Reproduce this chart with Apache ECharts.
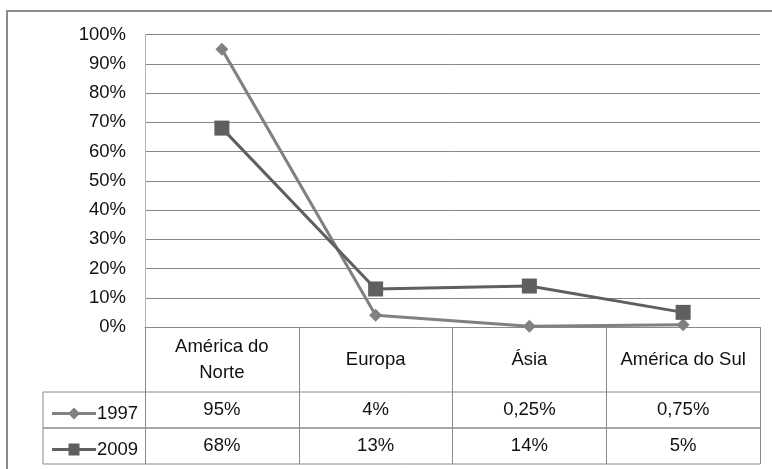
<!DOCTYPE html>
<html>
<head>
<meta charset="utf-8">
<script src="https://cdn.jsdelivr.net/npm/echarts@6/dist/echarts.min.js"></script>
<style>
html,body{margin:0;padding:0;background:#fff;}
#c{width:772px;height:469px;}
</style>
</head>
<body>
<div id="c"></div>
<script>
const categories = ['América do\nNorte', 'Europa', 'Ásia', 'América do Sul'];
const seriesNames = ['1997', '2009'];
const values1997 = [95, 4, 0.25, 0.75];
const values2009 = [68, 13, 14, 5];
const yTicks = [0, 10, 20, 30, 40, 50, 60, 70, 80, 90, 100];

const FONT = 'Liberation Sans';
const FS = 18.5;
const fmtPct = v => String(v).replace('.', ',') + '%';

const chart = echarts.init(document.getElementById('c'), null, {renderer: 'canvas'});

const G = {left: 145, right: 12, top: 34.5, bottom: 142};
const plotBottom = 469 - G.bottom;   // 327
const row1 = 392, row2 = 428, row3 = 464, tableLeft = 43;
const plotRight = 772 - G.right;

const valueAxis = (idx, arr, center) => ({
  type: 'category', gridIndex: 0, position: 'bottom', data: categories,
  axisLine: {show: false}, axisTick: {show: false}, splitLine: {show: false},
  axisLabel: {
    interval: 0, margin: center - plotBottom, verticalAlign: 'middle',
    fontFamily: FONT, fontSize: FS, color: '#111',
    formatter: (v, i) => fmtPct(arr[i])
  }
});

const DIAMOND_ICON = 'path://M0,4.5 L17.5,4.5 L22,0 L26.5,4.5 L44,4.5 L44,7.5 L26.5,7.5 L22,12 L17.5,7.5 L0,7.5 Z';
const SQUARE_ICON = 'path://M0,4.5 L16.5,4.5 L16.5,0 L27.5,0 L27.5,4.5 L44,4.5 L44,7.5 L27.5,7.5 L27.5,12 L16.5,12 L16.5,7.5 L0,7.5 Z';

const legendBase = {
  left: 47, itemWidth: 44, itemHeight: 12, itemGap: 2, selectedMode: false,
  textStyle: {fontFamily: FONT, fontSize: FS, color: '#111', padding: [0, 0, 0, -4]}
};

chart.setOption({
  animation: false,
  backgroundColor: '#fff',
  grid: {left: G.left, right: G.right, top: G.top, bottom: G.bottom},
  legend: [
    Object.assign({}, legendBase, {data: [{name: seriesNames[0], icon: DIAMOND_ICON}], top: row1 + 7}),
    Object.assign({}, legendBase, {data: [{name: seriesNames[1], icon: SQUARE_ICON}], top: row2 + 7})
  ],
  xAxis: [
    {
      type: 'category', data: categories, boundaryGap: true,
      axisLine: {show: true, lineStyle: {color: '#8a8a8a', width: 1}},
      axisTick: {show: true, interval: 0, length: row3 - plotBottom, lineStyle: {color: '#8a8a8a', width: 1}},
      axisLabel: {interval: 0, margin: (row1 - plotBottom) / 2, verticalAlign: 'middle',
        fontFamily: FONT, fontSize: FS, color: '#111', lineHeight: 26, align: 'center'},
      splitLine: {show: false}
    },
    valueAxis(1, values1997, (row1 + row2) / 2),
    valueAxis(2, values2009, (row2 + row3) / 2)
  ],
  yAxis: {
    type: 'value', min: 0, max: 100, interval: 10,
    axisLine: {show: true, lineStyle: {color: '#b5b5b5', width: 1}},
    axisTick: {show: false},
    axisLabel: {margin: 19, fontFamily: FONT, fontSize: FS, color: '#111',
      formatter: v => yTicks.includes(v) ? v + '%' : ''},
    splitLine: {show: true, lineStyle: {color: '#878787', width: 1}}
  },
  graphic: [
    {type: 'rect', shape: {x: 7, y: 11, width: 780, height: 480}, silent: true,
     style: {fill: 'none', stroke: '#8a8a8a', lineWidth: 2}, z: -1},
    {type: 'line', shape: {x1: tableLeft, y1: row1, x2: plotRight, y2: row1}, style: {stroke: '#8a8a8a', lineWidth: 1}},
    {type: 'line', shape: {x1: tableLeft, y1: row2, x2: plotRight, y2: row2}, style: {stroke: '#8a8a8a', lineWidth: 1.5}},
    {type: 'line', shape: {x1: tableLeft, y1: row3, x2: plotRight, y2: row3}, style: {stroke: '#8a8a8a', lineWidth: 1}},
    {type: 'line', shape: {x1: tableLeft, y1: row1, x2: tableLeft, y2: row3}, style: {stroke: '#8a8a8a', lineWidth: 1}}
  ],
  series: [
    {name: seriesNames[0], type: 'line', data: values1997, symbol: 'diamond', symbolSize: 13,
     lineStyle: {color: '#818181', width: 3}, itemStyle: {color: '#818181'}, z: 3},
    {name: seriesNames[1], type: 'line', data: values2009, symbol: 'rect', symbolSize: 15,
     lineStyle: {color: '#5f5f5f', width: 3}, itemStyle: {color: '#5f5f5f'}, z: 4}
  ]
});
</script>
</body>
</html>
